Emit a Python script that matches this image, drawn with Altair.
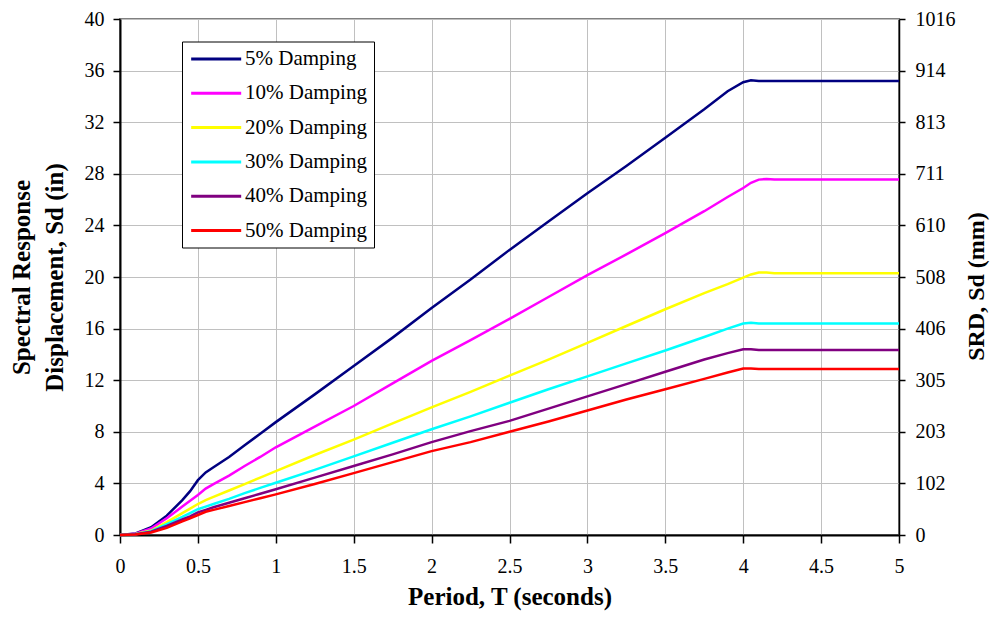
import altair as alt
import pandas as pd

# Period (s)
T = [0, 0.1, 0.2, 0.3, 0.4, 0.45, 0.5, 0.55, 0.6, 0.7, 0.8, 0.9, 1.0, 1.25, 1.5,
     1.75, 2.0, 2.25, 2.5, 2.75, 3.0, 3.25, 3.5, 3.75, 3.9, 4.0, 4.05, 4.1, 4.15, 4.2, 5.0]

# Spectral response displacement (in)
d05 = [0, 0.12, 0.6, 1.5, 2.7, 3.4, 4.25, 4.85, 5.25, 6.05, 6.95, 7.85, 8.75, 10.9, 13.1,
       15.3, 17.6, 19.8, 22.1, 24.3, 26.5, 28.6, 30.8, 33.0, 34.4, 35.1, 35.25, 35.2, 35.2, 35.2, 35.2]
d10 = [0, 0.1, 0.5, 1.3, 2.2, 2.65, 3.1, 3.6, 3.95, 4.6, 5.35, 6.05, 6.8, 8.4, 10.0,
       11.75, 13.5, 15.1, 16.75, 18.45, 20.15, 21.75, 23.4, 25.1, 26.2, 26.9, 27.3, 27.55, 27.6, 27.55, 27.55]
d20 = [0, 0.08, 0.35, 1.0, 1.7, 2.05, 2.4, 2.7, 2.95, 3.45, 3.95, 4.45, 4.95, 6.2, 7.4,
       8.65, 9.9, 11.1, 12.35, 13.6, 14.9, 16.2, 17.5, 18.75, 19.45, 19.95, 20.2, 20.35, 20.35, 20.3, 20.3]
d30 = [0, 0.06, 0.3, 0.85, 1.4, 1.7, 2.0, 2.2, 2.4, 2.8, 3.25, 3.65, 4.05, 5.05, 6.1,
       7.15, 8.2, 9.2, 10.25, 11.3, 12.3, 13.3, 14.3, 15.35, 16.0, 16.4, 16.45, 16.4, 16.4, 16.4, 16.4]
d40 = [0, 0.05, 0.25, 0.7, 1.2, 1.45, 1.75, 1.95, 2.15, 2.5, 2.85, 3.2, 3.55, 4.45, 5.35,
       6.25, 7.2, 8.05, 8.85, 9.8, 10.75, 11.7, 12.65, 13.6, 14.1, 14.4, 14.4, 14.35, 14.35, 14.35, 14.35]
d50 = [0, 0.04, 0.2, 0.55, 1.05, 1.3, 1.55, 1.8, 1.95, 2.25, 2.55, 2.85, 3.15, 3.95, 4.8,
       5.65, 6.5, 7.2, 8.0, 8.8, 9.65, 10.5, 11.3, 12.1, 12.6, 12.9, 12.9, 12.87, 12.87, 12.87, 12.87]

names = ["5% Damping", "10% Damping", "20% Damping", "30% Damping", "40% Damping", "50% Damping"]
colors = ["#000080", "#FF00FF", "#FFFF00", "#00FFFF", "#800080", "#FF0000"]
series = [d05, d10, d20, d30, d40, d50]

x_ticks = [0, 0.5, 1, 1.5, 2, 2.5, 3, 3.5, 4, 4.5, 5]
y_ticks = [0, 4, 8, 12, 16, 20, 24, 28, 32, 36, 40]

rows = []
for name, vals in zip(names, series):
    for t, v in zip(T, vals):
        rows.append({"T": t, "Sd": v, "series": name})
df = pd.DataFrame(rows)

FONT = "Liberation Serif"
H = 516

xaxis = alt.Axis(values=x_ticks, format="~g", title="Period, T (seconds)", grid=True,
                 gridColor="#c0c0c0", gridWidth=1, domainColor="black", domainWidth=2,
                 tickColor="black", tickSize=8, tickWidth=1.5, labelFont=FONT, labelFontSize=20,
                 labelColor="black", labelPadding=13, labelFlush=False, labelOverlap=False,
                 titleFont=FONT, titleFontSize=25, titleFontWeight="bold", titleColor="black",
                 titleX=389.5, titleY=61, titleBaseline="middle", titleAlign="center")

xenc = alt.X("T:Q", scale=alt.Scale(domain=[0, 5], nice=False), axis=xaxis)

yaxis = alt.Axis(values=y_ticks, title=["Spectral Response", "Displacement, Sd (in)"], grid=True,
                 gridColor="#c0c0c0", gridWidth=1, domainColor="black", domainWidth=2,
                 tickColor="black", tickSize=7, tickWidth=1.5, labelFont=FONT, labelFontSize=20,
                 labelColor="black", labelPadding=9, labelFlush=False, labelOverlap=False,
                 titleFont=FONT, titleFontSize=25, titleFontWeight="bold", titleColor="black",
                 titleAngle=270, titleX=-99, titleY=H / 2, titleAlign="center",
                 titleBaseline="middle", titleLineHeight=33)

raxis = alt.Axis(orient="right", values=y_ticks, labelExpr="'' + round(datum.value * 25.4)",
                 title="SRD, Sd (mm)", grid=False, domainColor="black", domainWidth=1.5,
                 tickColor="black", tickSize=6, tickWidth=1.5, labelFont=FONT, labelFontSize=20,
                 labelColor="black", labelPadding=10, labelFlush=False, labelOverlap=False,
                 titleFont=FONT, titleFontSize=24, titleFontWeight="bold", titleColor="black",
                 titleAngle=270, titleX=77, titleY=H / 2 + 9, titleAlign="center",
                 titleBaseline="middle")

lines = alt.Chart(df).mark_line(strokeWidth=2.5).encode(
    x=xenc,
    y=alt.Y("Sd:Q", scale=alt.Scale(domain=[0, 40], nice=False), axis=yaxis),
    color=alt.Color("series:N", sort=names,
                    scale=alt.Scale(domain=names, range=colors),
                    legend=alt.Legend(orient="none", legendX=62, legendY=22.5, title=None,
                                      symbolType="M-1,0H5", symbolSize=278,
                                      symbolStrokeWidth=3, labelOffset=35,
                                      labelFont=FONT, labelFontSize=21, labelColor="black",
                                      labelLimit=400, rowPadding=12.3, padding=7,
                                      strokeColor="black", fillColor="white")),
    order=alt.Order("T:Q"),
)

right = alt.Chart(df).mark_line(opacity=0).encode(
    x=xenc,
    y=alt.Y("Sd:Q", scale=alt.Scale(domain=[0, 40], nice=False), axis=raxis),
    detail="series:N",
)

chart = alt.layer(lines, right).resolve_scale(y="independent").properties(
    width=779, height=H,
    autosize=alt.AutoSizeParams(type="none"),
    padding={"left": 112, "top": 11, "right": 91, "bottom": 77},
).configure_view(stroke="#808080", strokeWidth=2).configure_legend(
    labelFont=FONT, labelFontSize=21, labelColor="black"
)

chart.save("out.html", embed_options={"renderer": "svg", "actions": False})
